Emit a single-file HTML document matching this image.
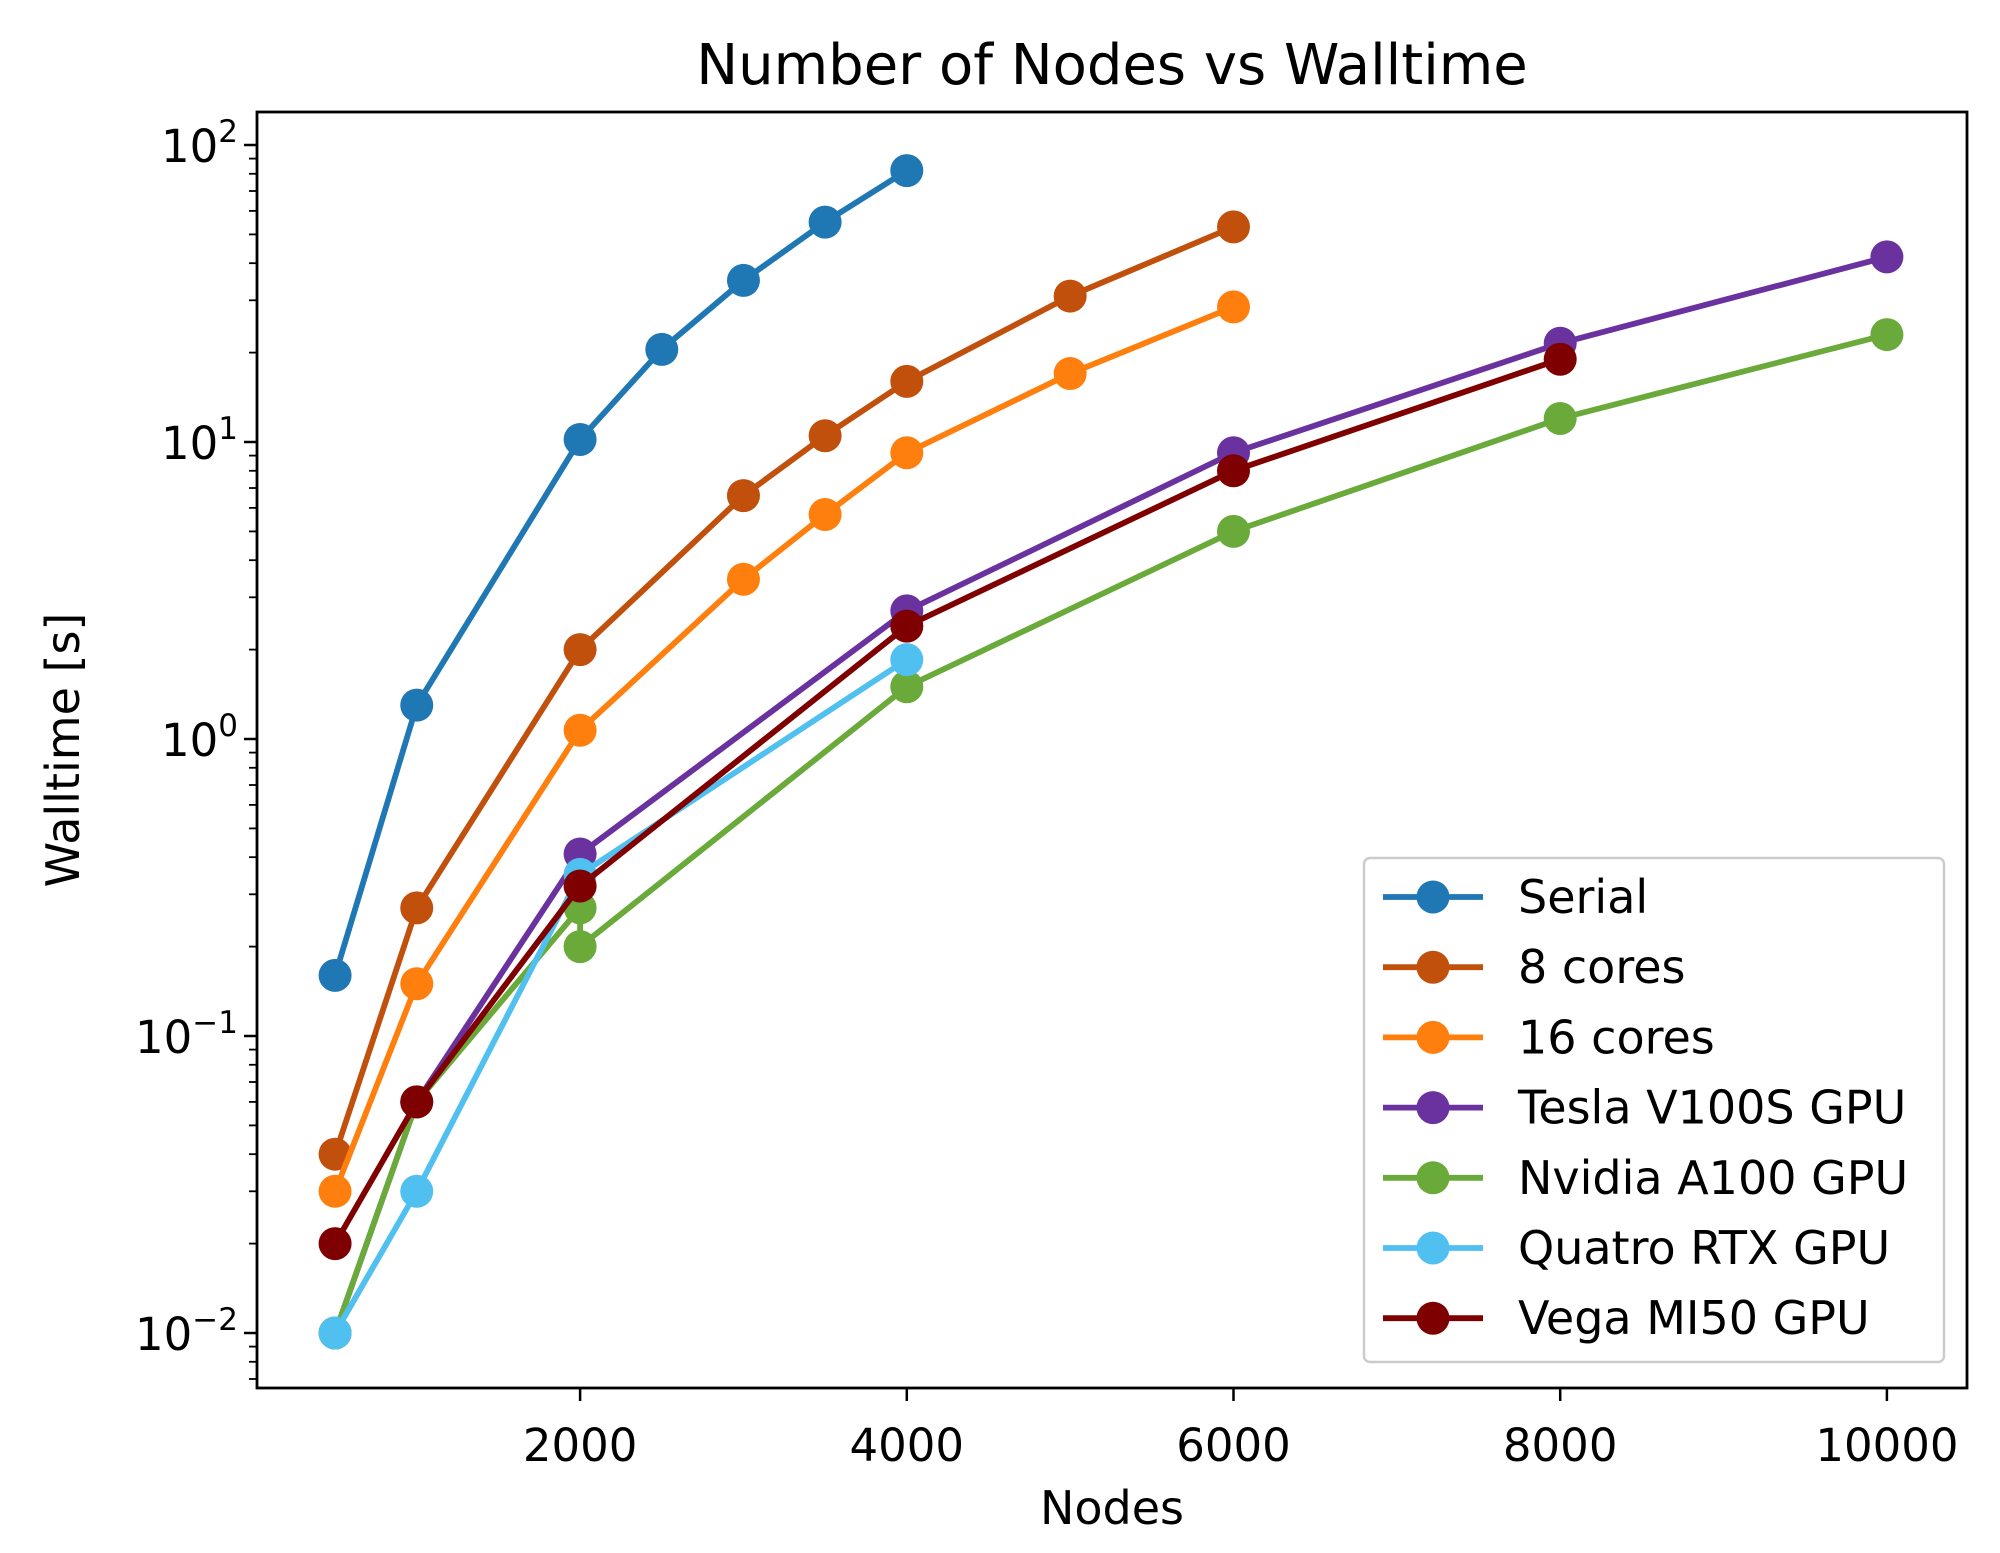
<!DOCTYPE html>
<html><head><meta charset="utf-8"><style>
html,body{margin:0;padding:0;background:#fff;}
svg{display:block;font-family:"DejaVu Sans","Liberation Sans",sans-serif;}
</style></head><body>
<svg id="chart" width="2000" height="1553" viewBox="0 0 2000 1553" xmlns="http://www.w3.org/2000/svg">
<rect width="2000" height="1553" fill="#fff"/>
<text x="1112" y="84" font-size="56" text-anchor="middle">Number of Nodes vs Walltime</text>
<text x="1112" y="1524" font-size="46" text-anchor="middle">Nodes</text>
<text transform="translate(79,750) rotate(-90)" font-size="46" text-anchor="middle">Walltime [s]</text>
<g id="grid"></g>
<g id="series"></g>
<rect x="257" y="112" width="1710" height="1276" fill="none" stroke="#000" stroke-width="2.8"/>
<g id="legend"></g>
</svg>
<script>
const seriesNames = ["Serial","8 cores","16 cores","Tesla V100S GPU","Nvidia A100 GPU","Quatro RTX GPU","Vega MI50 GPU"];
const seriesColors = ["#1f77b4","#c0500c","#ff7f0e","#6a329f","#6aaa3a","#4fc0f0","#7f0000"];
const serialX = [500,1000,2000,2500,3000,3500,4000];
const serialY = [0.16,1.3,10.2,20.5,35,55,82];
const cores8X = [500,1000,2000,3000,3500,4000,5000,6000];
const cores8Y = [0.04,0.27,2.0,6.6,10.5,16,31,53];
const cores16X = [500,1000,2000,3000,3500,4000,5000,6000];
const cores16Y = [0.03,0.15,1.07,3.45,5.7,9.2,17,28.5];
const teslaX = [500,1000,2000,4000,6000,8000,10000];
const teslaY = [0.01,0.06,0.41,2.7,9.2,21.5,42];
const nvidiaX = [500,1000,2000,2000,4000,6000,8000,10000];
const nvidiaY = [0.01,0.06,0.27,0.2,1.5,5,12,23];
const quatroX = [500,1000,2000,4000];
const quatroY = [0.01,0.03,0.35,1.85];
const vegaX = [500,1000,2000,4000,6000,8000];
const vegaY = [0.02,0.06,0.32,2.4,8,19];
const xTicks = [2000,4000,6000,8000,10000];
const yExps = [-2,-1,0,1,2];

const NS="http://www.w3.org/2000/svg";
function X(v){return 253.4+v*0.16335;}
function Y(v){return 739-297*Math.log10(v);}
function mk(tag,attrs,parent){const e=document.createElementNS(NS,tag);for(const k in attrs)e.setAttribute(k,attrs[k]);parent.appendChild(e);return e;}
const grid=document.getElementById('grid');
xTicks.forEach(t=>{
  const l=mk('line',{x1:X(t),x2:X(t),y1:1388,y2:1401,stroke:'#000','stroke-width':2.5},grid);
  
  
  const tx=mk('text',{x:X(t),y:1461,'font-size':45,'text-anchor':'middle'},grid);
  tx.textContent=String(t);
  
  
});
yExps.forEach(e=>{
  const y=Y(Math.pow(10,e));
  const l=mk('line',{x1:244,x2:257,y1:y,y2:y,stroke:'#000','stroke-width':2.5},grid);
  
  
  const tx=mk('text',{x:238,y:y+17,'font-size':45,'text-anchor':'end'},grid);
  
  
  const b=mk('tspan',{},tx);b.textContent='10';
  const s=mk('tspan',{dy:-20,'font-size':31},tx);s.textContent=(e<0?'\u2212'+(-e):String(e));
});
for(let e=-3;e<=2;e++){for(let m=2;m<=9;m++){const v=m*Math.pow(10,e);const y=Y(v);if(y<112||y>1388)continue;
  const l=mk('line',{x1:249,x2:257,y1:y,y2:y,stroke:'#000','stroke-width':1.8},grid);
  
  
}}
const allX=[serialX,cores8X,cores16X,teslaX,nvidiaX,quatroX,vegaX];
const allY=[serialY,cores8Y,cores16Y,teslaY,nvidiaY,quatroY,vegaY];
const sg=document.getElementById('series');
allX.forEach((xs,i)=>{
  const g=mk('g',{},sg);
  
  
  const pts=xs.map((x,j)=>X(x).toFixed(1)+','+Y(allY[i][j]).toFixed(1)).join(' ');
  const pl=mk('polyline',{points:pts,fill:'none',stroke:seriesColors[i],'stroke-width':5.8,'stroke-linejoin':'round','stroke-linecap':'square'},g);
  
  
  xs.forEach((x,j)=>{
    const c=mk('circle',{cx:X(x),cy:Y(allY[i][j]),r:16.5,fill:seriesColors[i]},g);
    
    
  });
});
const lg=document.getElementById('legend');
const box=mk('rect',{x:1364,y:858,width:580,height:504,rx:6,fill:'#fff','fill-opacity':0.8,stroke:'#ccc','stroke-width':2.5},lg);


seriesNames.forEach((n,i)=>{
  const y=897+i*70.2;
  const g=mk('g',{},lg);
  
  
  mk('line',{x1:1383,x2:1483,y1:y,y2:y,stroke:seriesColors[i],'stroke-width':5.8},g);
  mk('circle',{cx:1433,cy:y,r:16.5,fill:seriesColors[i]},g);
  const t=mk('text',{x:1518,y:y+16,'font-size':46},g);t.textContent=n;
});
</script>
</body></html>
